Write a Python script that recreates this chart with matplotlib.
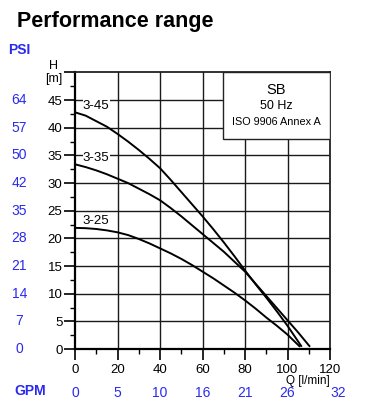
import matplotlib
matplotlib.use("Agg")
import matplotlib.pyplot as plt
from matplotlib.patches import Rectangle
from matplotlib.transforms import blended_transform_factory

plt.rcParams['font.family'] = ['Liberation Sans', 'DejaVu Sans']

# ---- data ----
q_345 = [0, 5, 10, 15, 20, 25, 30, 35, 40, 45, 50, 55, 60, 65, 70, 75, 80, 85, 90, 95, 100, 106.7]
h_345 = [42.8, 42.2, 41.2, 40.2, 38.9, 37.5, 36.0, 34.4, 32.7, 30.6, 28.4, 26.2, 24.0, 21.7,
         19.3, 16.8, 14.2, 11.7, 9.3, 6.8, 4.2, 0.4]
q_335 = [0, 5, 10, 15, 20, 25, 30, 35, 40, 45, 50, 55, 60, 65, 70, 75, 80, 85, 90, 95, 100, 105, 110.6]
h_335 = [33.4, 32.9, 32.3, 31.6, 30.8, 30.0, 29.0, 28.0, 26.9, 25.5, 24.0, 22.4, 20.8, 19.2,
         17.6, 15.8, 14.0, 11.8, 9.6, 7.4, 5.2, 3.0, 0.4]
q_325 = [0, 5, 10, 15, 20, 25, 30, 35, 40, 45, 50, 55, 60, 65, 70, 75, 80, 85, 90, 95, 100, 105.9]
h_325 = [21.9, 21.85, 21.7, 21.45, 21.1, 20.6, 19.9, 19.1, 18.2, 17.3, 16.3, 15.2, 14.0, 12.8,
         11.5, 10.2, 8.8, 7.3, 5.7, 4.2, 2.6, 0.4]
curve_labels = ['3-45', '3-35', '3-25']
label_heights = [44.0, 34.5, 23.2]

h_ticks = [0, 5, 10, 15, 20, 25, 30, 35, 40, 45, 50]
h_ticklabels = ['0', '5', '10', '15', '20', '25', '30', '35', '40', '45', '']
psi_pos = [0, 5, 10, 15, 20, 25, 30, 35, 40, 45]
psi_labels = ['0', '7', '14', '21', '28', '35', '42', '50', '57', '64']
q_ticks = [0, 20, 40, 60, 80, 100, 120]
gpm_labels = ['0', '5', '10', '16', '21', '26', '32']
box_lines = ['SB', '50 Hz', 'ISO 9906 Annex A']

BLUE = '#2a2aee'
FS = 9.5

fig = plt.figure(figsize=(3.74, 4.11), dpi=100)
W, H = 374, 411
ax = fig.add_axes([75 / W, (H - 349) / H, 255 / W, (349 - 72.5) / H])
ax.set_xlim(0, 120)
ax.set_ylim(0, 50)

# grid
for x in q_ticks[1:-1]:
    ax.axvline(x, color='#1a1a1a', lw=1.0, zorder=1)
for y in h_ticks[1:-1]:
    ax.axhline(y, color='#1a1a1a', lw=1.0, zorder=1)

# curves
for q, h in [(q_345, h_345), (q_335, h_335), (q_325, h_325)]:
    ax.plot(q, h, color='black', lw=1.4, zorder=3, solid_capstyle='butt')

for lab, hy in zip(curve_labels, label_heights):
    ax.text(10, hy, lab, fontsize=FS, ha='center', va='center', zorder=4,
            bbox=dict(facecolor='white', edgecolor='none', pad=0.3))

# info box
ax.add_patch(Rectangle((69.5, 38), 50.5, 12, facecolor='white', edgecolor='#222222',
                       lw=1.0, zorder=5))
box_h = [46.9, 43.9, 41.0]
box_fs = [10.5, 9, 7.8]
for t, hy, f in zip(box_lines, box_h, box_fs):
    ax.text(94.8, hy, t, fontsize=f, ha='center', va='center', zorder=6)

# ticks
ax.set_xticks(q_ticks)
ax.set_xticklabels([str(v) for v in q_ticks], fontsize=FS)
ax.set_xticks(range(10, 120, 20), minor=True)
ax.set_yticks(h_ticks)
ax.set_yticklabels(h_ticklabels, fontsize=FS)
ax.set_yticks([v + 2.5 for v in range(0, 50, 5)], minor=True)
ax.tick_params(axis='both', which='major', direction='out', length=8, width=1.2, pad=1)
ax.tick_params(axis='x', which='major', pad=3)
ax.tick_params(axis='both', which='minor', direction='out', length=3.5, width=1.0)
for s in ax.spines.values():
    s.set_linewidth(1.3)
    s.set_color('#222222')
ax.spines['left'].set_linewidth(1.6)
ax.spines['left'].set_color('black')
ax.spines['bottom'].set_linewidth(1.6)
ax.spines['bottom'].set_color('black')

# axis labels
fig.text(330 / W, 1 - 380.5 / H, 'Q [l/min]', fontsize=8.5, ha='right', va='center')
fig.text(54 / W, 1 - 66 / H, 'H', fontsize=FS - 0.5, ha='center', va='center')
fig.text(54 / W, 1 - 79 / H, '[m]', fontsize=FS - 0.5, ha='center', va='center')

# PSI secondary labels
tr_y = blended_transform_factory(fig.transFigure, ax.transData)
for p, lab in zip(psi_pos, psi_labels):
    ax.text(19.5 / W, p, lab, transform=tr_y, fontsize=10, color=BLUE, ha='center', va='center')
fig.text(19 / W, 1 - 50 / H, 'PSI', fontsize=10, fontweight='bold', color=BLUE, ha='center', va='center')

# GPM secondary labels
tr_x = blended_transform_factory(ax.transData, fig.transFigure)
for i, (qv, lab) in enumerate(zip(q_ticks, gpm_labels)):
    xoff = 3.8 if i == len(q_ticks) - 1 else 0
    ax.text(qv + xoff, 1 - 393 / H, lab, transform=tr_x, fontsize=10, color=BLUE, ha='center', va='center')
fig.text(30 / W, 1 - 391 / H, 'GPM', fontsize=10, fontweight='bold', color=BLUE, ha='center', va='center')

# title
fig.text(17 / W, 1 - 21 / H, 'Performance range', fontsize=15.5, fontweight='bold', ha='left', va='center')

fig.savefig('out.png', dpi=100)
